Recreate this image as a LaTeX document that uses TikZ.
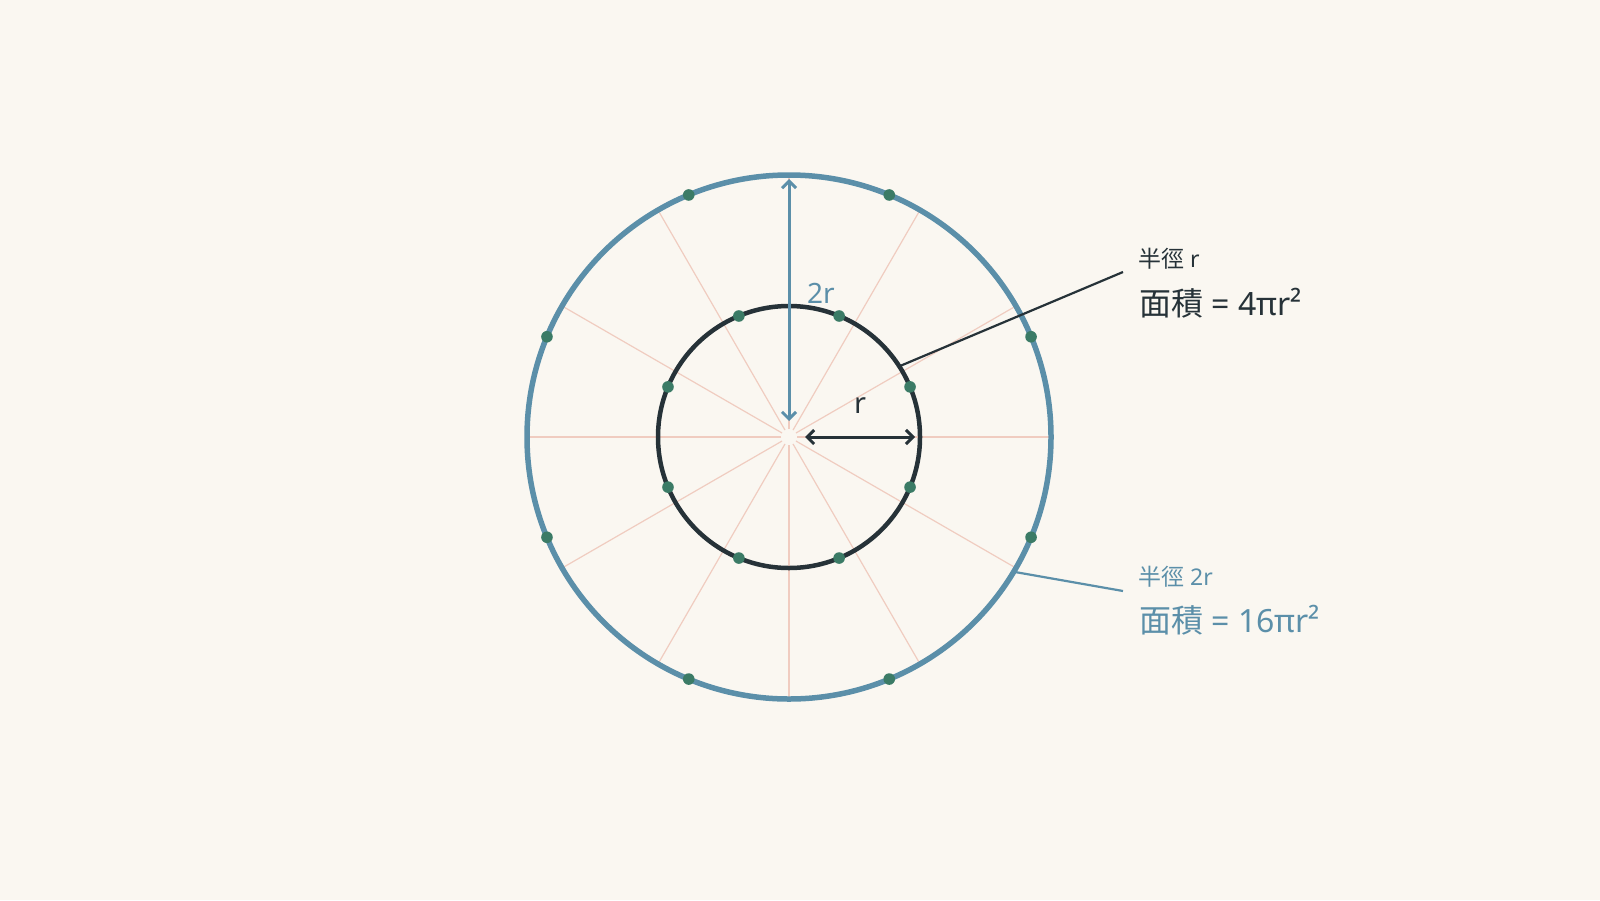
\documentclass[tikz,border=0pt]{standalone}
\usepackage{fontspec}
\setmainfont{Noto Sans}
\newfontfamily\cjk{Noto Sans CJK TC}
\usetikzlibrary{arrows.meta}
\definecolor{bg}{HTML}{FAF7F1}
\definecolor{cblue}{HTML}{5B8FA9}
\definecolor{cdark}{HTML}{263238}
\definecolor{cgreen}{HTML}{3B7B66}
\definecolor{cpink}{HTML}{F0CCC0}
\tikzset{
  radial/.style={draw=cpink, line width=1.2pt},
  outerc/.style={draw=cblue, line width=5.5pt},
  innerc/.style={draw=cdark, line width=4.5pt},
  dotc/.style={fill=cgreen},
  barb/.style={Straight Barb[length=7pt,width=14pt,line width=3pt]},
  bluearrow/.style={draw=cblue, line width=3pt, line cap=round, {Straight Barb[length=7pt,width=14pt,line width=3pt]}-{Straight Barb[length=7pt,width=14pt,line width=3pt]}},
  darkarrow/.style={draw=cdark, line width=3pt, line cap=round, {Straight Barb[length=7pt,width=14pt,line width=3pt]}-{Straight Barb[length=7pt,width=14pt,line width=3pt]}},
  callout/.style={line width=2.2pt},
  lbl/.style={inner sep=0pt, anchor=base west},
}
\begin{document}
\begin{tikzpicture}[x=1pt,y=-1pt]
\fill[bg] (0,0) rectangle (1600,900);
\useasboundingbox (0,0) rectangle (1600,900);
\coordinate (O) at (789,437);
% radial lines
\foreach \a in {0,30,...,330}
  \draw[radial, shift={(O)}] (\a:8) -- (\a:261);
% circles
\draw[outerc] (O) circle[radius=262pt];
\draw[innerc] (O) circle[radius=131pt];
% dots
\foreach \a in {22.5,67.5,...,337.5} {
  \fill[dotc, shift={(O)}] (\a:262) circle[radius=5.8pt];
  \fill[dotc, shift={(O)}] (\a:131) circle[radius=5.8pt];
}
% arrows
\coordinate (b1) at (789,421);
\coordinate (b2) at (789,179);
\draw[bluearrow] (b1) -- (b2);
\coordinate (d1) at (805,437);
\coordinate (d2) at (915,437);
\draw[darkarrow] (d1) -- (d2);
\node[lbl, text=cblue, font=\fontsize{28}{32}\selectfont] (lab2r) at (807,303) {2r};
\node[lbl, text=cdark, font=\fontsize{29}{32}\selectfont] (labr) at (854,413) {r};
% callouts
\coordinate (c1s) at (900,366);
\coordinate (c1e) at (1123,272);
\draw[callout, cdark] (c1s) -- (c1e);
\coordinate (c2s) at (1015,572);
\coordinate (c2e) at (1123,591);
\draw[callout, cblue] (c2s) -- (c2e);
\node[lbl, text=cdark, font=\fontsize{23}{28}\selectfont] (t1a) at (1138,267) {{\cjk 半徑} r};
\node[lbl, text=cdark, font=\fontsize{32}{38}\selectfont] (t1b) at (1139,315) {{\cjk 面積} = 4πr²};
\node[lbl, text=cblue, font=\fontsize{23}{28}\selectfont] (t2a) at (1138,585) {{\cjk 半徑} 2r};
\node[lbl, text=cblue, font=\fontsize{32}{38}\selectfont] (t2b) at (1139,632) {{\cjk 面積} = 16πr²};
\end{tikzpicture}
\end{document}
